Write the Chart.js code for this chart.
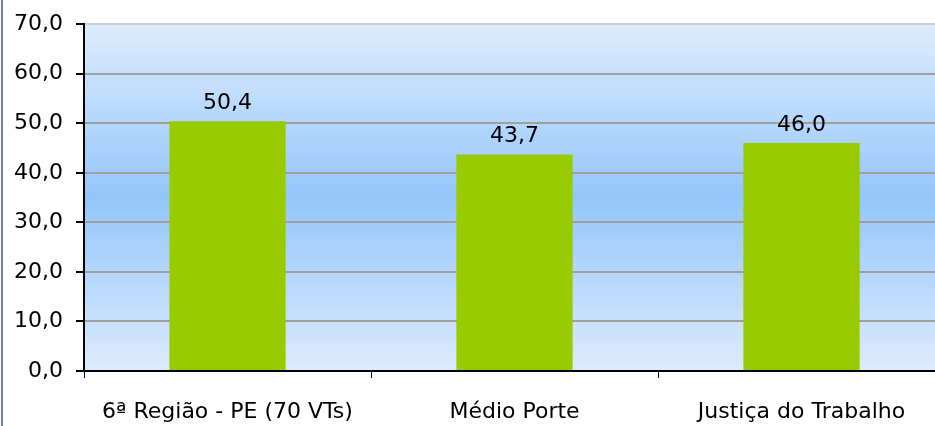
<!DOCTYPE html>
<html>
<head>
<meta charset="utf-8">
<script src="https://cdn.jsdelivr.net/npm/chart.js@4"></script>
<style>
  html, body { margin: 0; padding: 0; background: #fff; overflow: hidden; }
  #wrap { position: relative; width: 945px; height: 428px; margin-top: -2px; }
  #edge { position: absolute; left: 1px; top: 0; width: 2px; height: 428px; background: #6f7f9c; }
</style>
</head>
<body>
<div id="wrap">
  <canvas id="chart" width="945" height="428"></canvas>
  <div id="edge"></div>
</div>
<script>
const categories = ['6ª Região - PE (70 VTs)', 'Médio Porte', 'Justiça do Trabalho'];
const values = [50.4, 43.7, 46.0];
const yTicks = [0, 10, 20, 30, 40, 50, 60, 70];

const fmt = v => v.toFixed(1).replace('.', ',');

// blue gradient behind the plot area
const plotBg = {
    id: 'plotBg',
    beforeDraw(chart) {
        const { ctx, chartArea: a } = chart;
        const g = ctx.createLinearGradient(0, a.top, 0, a.bottom);
        g.addColorStop(0, '#deedfd');
        g.addColorStop(0.5, '#94c6fb');
        g.addColorStop(1, '#ddebfc');
        ctx.save();
        ctx.fillStyle = g;
        ctx.fillRect(a.left, a.top, a.right - a.left, a.bottom - a.top);
        ctx.restore();
    }
};

// value labels above bars
const barLabels = {
    id: 'barLabels',
    afterDatasetsDraw(chart) {
        const { ctx } = chart;
        const meta = chart.getDatasetMeta(0);
        ctx.save();
        ctx.font = '22px "DejaVu Sans", Verdana, sans-serif';
        ctx.fillStyle = '#000';
        ctx.textAlign = 'center';
        ctx.textBaseline = 'middle';
        meta.data.forEach((bar, i) => {
            ctx.fillText(fmt(values[i]), bar.x, bar.y - 18);
        });
        ctx.restore();
    }
};

const ctx = document.getElementById('chart').getContext('2d');
new Chart(ctx, {
    type: 'bar',
    data: {
        labels: categories,
        datasets: [{
            data: values,
            backgroundColor: '#99cc00',
            borderWidth: 0,
            categoryPercentage: 1,
            barPercentage: 0.405
        }]
    },
    options: {
        responsive: false,
        animation: false,
        layout: { padding: { top: 22, right: 0, left: 0, bottom: 0 } },
        scales: {
            x: {
                grid: {
                    offset: true,
                    drawOnChartArea: false,
                    drawTicks: true,
                    tickLength: 7,
                    tickColor: '#000'
                },
                border: { color: '#000', width: 2 },
                ticks: {
                    color: '#000',
                    padding: 21,
                    font: { family: '"DejaVu Sans", sans-serif', size: 22 }
                },
                afterFit(scale) { scale.height = 55; }
            },
            y: {
                min: 0,
                max: 70,
                afterBuildTicks(scale) { scale.ticks = yTicks.map(v => ({ value: v })); },
                grid: {
                    color: ctx => ctx.tick && ctx.tick.value === 70 ? '#cfcfcf' : '#a0a0a0',
                    lineWidth: 2,
                    tickLength: 8,
                    tickColor: '#000'
                },
                border: { color: '#000', width: 2 },
                ticks: {
                    color: '#000',
                    padding: 13,
                    font: { family: '"DejaVu Sans", Verdana, sans-serif', size: 22 },
                    callback: v => fmt(v)
                },
                afterFit(scale) { scale.width = 84; }
            }
        },
        plugins: {
            legend: { display: false },
            tooltip: { enabled: false }
        }
    },
    plugins: [plotBg, barLabels]
});
</script>
</body>
</html>
